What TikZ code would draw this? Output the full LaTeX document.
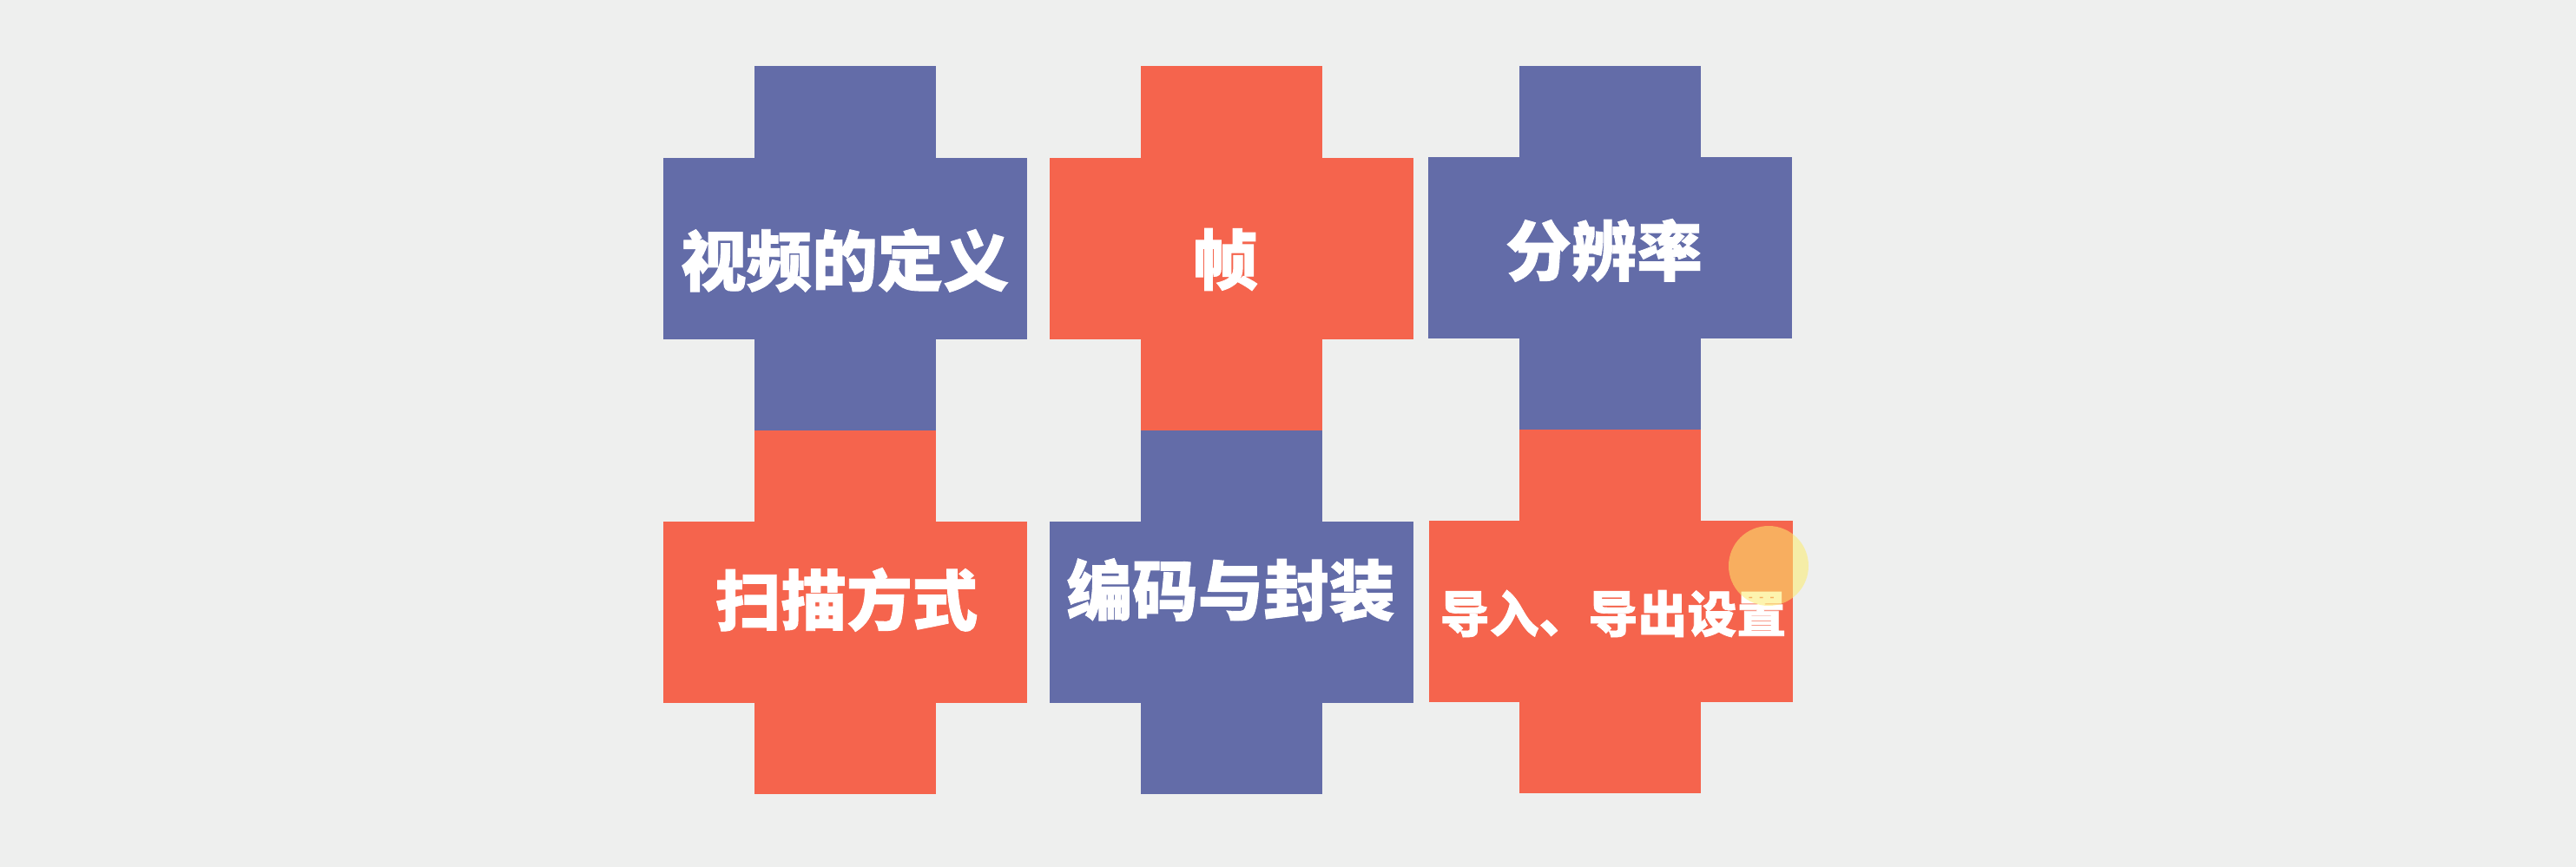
\documentclass[tikz,border=0pt]{standalone}
\usepackage{fontspec}
\usepackage{tikz}
\usetikzlibrary{positioning}
\newfontfamily\cjk[BoldFeatures={FakeBold=1.2}]{Noto Sans CJK SC}
\definecolor{paper}{RGB}{238,239,238}
\definecolor{slate}{RGB}{99,108,168}
\definecolor{tomato}{RGB}{245,100,77}
\definecolor{glow}{RGB}{252,236,110}

\tikzset{
  vbar/.style={rectangle,inner sep=0pt,minimum width=2.09cm,minimum height=4.19cm},
  hbar/.style={rectangle,inner sep=0pt,minimum width=4.19cm,minimum height=2.09cm},
  cjktext/.style={text=white,inner sep=0pt,font=\cjk\bfseries\fontsize{21.5}{24}\selectfont},
  cjksmall/.style={cjktext,font=\cjk\bfseries\fontsize{16.2}{18}\selectfont}
}

\begin{document}
\begin{tikzpicture}
  \fill[paper] (0,0) rectangle (29.67,-9.99);
  \useasboundingbox (0,0) rectangle (29.67,-9.99);
  % top row
  \node[vbar,fill=slate] (v1) at (9.735,-2.86) {};
  \node[hbar,fill=slate] (h1) at (9.735,-2.865) {};
  \node[vbar,fill=tomato] (v2) at (14.18,-2.86) {};
  \node[hbar,fill=tomato] (h2) at (14.18,-2.865) {};
  \node[vbar,fill=slate] (v3) at (18.545,-2.86) {};
  \node[hbar,fill=slate] (h3) at (18.545,-2.855) {};
  % bottom row
  \node[vbar,fill=tomato] (v4) at (9.735,-7.05) {};
  \node[hbar,fill=tomato] (h4) at (9.735,-7.055) {};
  \node[vbar,fill=slate] (v5) at (14.18,-7.05) {};
  \node[hbar,fill=slate] (h5) at (14.18,-7.055) {};
  \node[vbar,fill=tomato] (v6) at (18.545,-7.045) {};
  \node[hbar,fill=tomato] (h6) at (18.55,-7.045) {};
  % texts
  \node[cjktext] (define) at (9.73,-3.00) {视频的定义};
  \node[cjktext] (frame) at (14.11,-2.99) {帧};
  \node[cjktext] (res) at (18.475,-2.885) {分辨率};
  \node[cjktext] (scan) at (9.75,-6.91) {扫描方式};
  \node[cjktext] (codec) at (14.175,-6.80) {编码与封装};
  \node[cjksmall] (io) at (18.58,-7.07) {导入、导出设置};
  % pointer highlight
  \fill[glow,opacity=0.55] (20.37,-6.52) circle (0.46);
\end{tikzpicture}
\end{document}
